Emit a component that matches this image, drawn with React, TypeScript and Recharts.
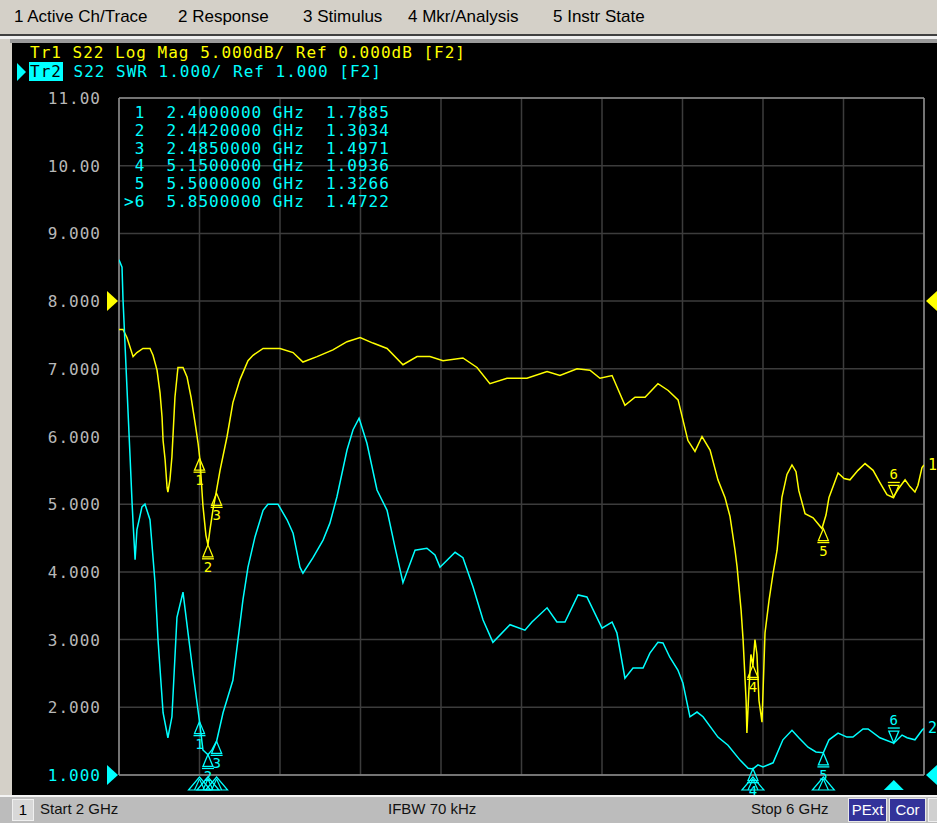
import React from "react"
import {
  ComposedChart,
  Line,
  XAxis,
  YAxis,
  CartesianGrid,
  ReferenceLine,
  ReferenceDot,
} from "recharts"

const yellow = "#ffff00"
const cyan = "#00ffff"
const grid = "#3c3c3c"
const frame = "#8c8c8c"
const mono = "'DejaVu Sans Mono', monospace"

// stimulus axis, GHz
const freqTicks = [2, 2.4, 2.8, 3.2, 3.6, 4, 4.4, 4.8, 5.2, 5.6, 6]
// SWR scale of the grid, 1.000/div, ref 1.000
const swrTicks = [1, 2, 3, 4, 5, 6, 7, 8, 9, 10, 11]

// Tr1: S22 Log Mag, [GHz, dB]
const tr1Points: [number, number][] = [
  [2.0, -2.1], [2.02, -2.1], [2.04, -2.7], [2.07, -4.1], [2.089, -3.8], [2.119, -3.5],
  [2.154, -3.5], [2.169, -4.0], [2.189, -5.1], [2.204, -6.8], [2.214, -8.6], [2.219, -10.3],
  [2.229, -11.7], [2.239, -13.8], [2.243, -14.1], [2.253, -13.2], [2.263, -11.5], [2.278, -7.1],
  [2.293, -4.9], [2.318, -4.9], [2.338, -5.6], [2.358, -7.1], [2.378, -9.0], [2.393, -10.5],
  [2.402, -11.7], [2.417, -15.1], [2.432, -17.3], [2.442, -18.0], [2.452, -16.9], [2.467, -15.4],
  [2.482, -14.2], [2.502, -12.5], [2.537, -10.0], [2.566, -7.5], [2.601, -5.8], [2.641, -4.4],
  [2.666, -4.0], [2.716, -3.5], [2.8, -3.5], [2.865, -3.8], [2.914, -4.5], [2.984, -4.1],
  [3.063, -3.6], [3.133, -3.0], [3.198, -2.7], [3.262, -3.1], [3.332, -3.5], [3.411, -4.7],
  [3.481, -4.1], [3.545, -4.1], [3.61, -4.4], [3.709, -4.2], [3.779, -4.9], [3.843, -6.1],
  [3.928, -5.7], [4.027, -5.7], [4.127, -5.2], [4.191, -5.5], [4.276, -5.0], [4.34, -5.1],
  [4.39, -5.7], [4.45, -5.5], [4.514, -7.7], [4.564, -7.1], [4.614, -7.1], [4.678, -6.1],
  [4.729, -6.6], [4.778, -7.3], [4.827, -10.3], [4.862, -11.1], [4.897, -10.0], [4.937, -11.0],
  [4.976, -13.2], [5.011, -14.5], [5.036, -15.9], [5.061, -18.4], [5.071, -19.6], [5.091, -22.8],
  [5.101, -25.0], [5.116, -29.5], [5.12, -31.9], [5.13, -28.7], [5.14, -26.1], [5.15, -26.9],
  [5.16, -25.0], [5.17, -26.1], [5.18, -29.5], [5.195, -31.1], [5.21, -24.5], [5.23, -22.1],
  [5.25, -20.1], [5.27, -18.4], [5.294, -14.5], [5.319, -12.8], [5.344, -12.1], [5.364, -12.6],
  [5.378, -14.0], [5.409, -15.7], [5.449, -16.0], [5.493, -16.8], [5.513, -15.8], [5.528, -14.5],
  [5.573, -12.7], [5.603, -13.1], [5.632, -13.2], [5.672, -12.5], [5.707, -12.0], [5.747, -12.5],
  [5.781, -13.4], [5.816, -14.3], [5.846, -14.5], [5.876, -13.8], [5.906, -13.2], [5.93, -13.7],
  [5.955, -14.1], [5.97, -13.6], [5.99, -12.3], [6.0, -12.1],
]

// Tr2: S22 SWR, [GHz, SWR]
const tr2Points: [number, number][] = [
  [2.0, 8.61], [2.015, 8.5], [2.02, 8.02], [2.04, 6.69], [2.055, 5.7], [2.065, 5.02],
  [2.07, 4.72], [2.08, 4.18], [2.089, 4.62], [2.114, 4.96], [2.129, 5.0], [2.154, 4.77],
  [2.179, 3.84], [2.194, 2.99], [2.219, 1.92], [2.243, 1.55], [2.263, 1.86], [2.288, 3.33],
  [2.318, 3.7], [2.343, 3.1], [2.368, 2.51], [2.4, 1.79], [2.417, 1.37], [2.442, 1.3],
  [2.462, 1.37], [2.485, 1.5], [2.517, 1.92], [2.566, 2.4], [2.616, 3.59], [2.641, 4.07],
  [2.676, 4.52], [2.716, 4.91], [2.74, 5.0], [2.79, 5.0], [2.835, 4.77], [2.865, 4.57],
  [2.899, 4.07], [2.914, 3.98], [2.964, 4.21], [3.014, 4.47], [3.048, 4.72], [3.083, 5.11],
  [3.133, 5.8], [3.163, 6.1], [3.193, 6.27], [3.232, 5.9], [3.282, 5.21], [3.332, 4.91],
  [3.371, 4.37], [3.411, 3.84], [3.471, 4.32], [3.53, 4.35], [3.57, 4.25], [3.595, 4.07],
  [3.67, 4.29], [3.709, 4.21], [3.759, 3.78], [3.809, 3.29], [3.858, 2.96], [3.943, 3.22],
  [4.017, 3.14], [4.052, 3.26], [4.127, 3.47], [4.176, 3.26], [4.216, 3.26], [4.281, 3.66],
  [4.325, 3.63], [4.4, 3.17], [4.45, 3.26], [4.474, 3.1], [4.514, 2.43], [4.554, 2.58],
  [4.604, 2.58], [4.638, 2.8], [4.678, 2.96], [4.703, 2.95], [4.737, 2.74], [4.777, 2.55],
  [4.802, 2.36], [4.837, 1.86], [4.872, 1.93], [4.902, 1.86], [4.976, 1.56], [5.026, 1.44],
  [5.086, 1.22], [5.126, 1.1], [5.15, 1.09], [5.175, 1.15], [5.2, 1.12], [5.25, 1.18],
  [5.299, 1.52], [5.344, 1.66], [5.378, 1.55], [5.424, 1.41], [5.463, 1.34], [5.5, 1.33],
  [5.528, 1.52], [5.573, 1.62], [5.617, 1.56], [5.647, 1.56], [5.697, 1.68], [5.722, 1.68],
  [5.781, 1.55], [5.85, 1.47], [5.891, 1.59], [5.916, 1.55], [5.955, 1.52], [5.99, 1.66],
  [6.0, 1.69],
]

// markers
const mkrLabels = ["1", "2", "3", "4", "5", "6"]
const mkrFreq = [2.4, 2.442, 2.485, 5.15, 5.5, 5.85]
const mkrSwr = [1.7885, 1.3034, 1.4971, 1.0936, 1.3266, 1.4722]
const mkrDb = [-11.6, -18.0, -14.2, -26.9, -16.8, -14.5]
const activeMkr = 5

const menuItems = ["1 Active Ch/Trace", "2 Response", "3 Stimulus", "4 Mkr/Analysis", "5 Instr State"]
const menuX = [14, 178, 303, 408, 553]

const tr1 = tr1Points.map(([f, v]) => ({ f, v }))
const tr2 = tr2Points.map(([f, v]) => ({ f, v }))

const fmtSwr = (v: number) => (v >= 10 ? v.toFixed(2) : v.toFixed(3))

// scale labels sit right-aligned at x=101, left of the plot frame
function YTick(props: any) {
  const { y, payload } = props
  const v = payload.value
  return (
    <text
      x={101}
      y={y}
      dy={6}
      textAnchor="end"
      fill={v === 1 ? cyan : "#b8b8b8"}
      fontFamily={mono}
      fontSize={16}
      letterSpacing={1}
    >
      {fmtSwr(v)}
    </text>
  )
}

function markerShape(color: string, label: string, active: boolean) {
  return (p: any) => {
    const { cx, cy } = p
    const txt = {
      fill: color,
      fontFamily: mono,
      fontSize: 14,
      textAnchor: "middle" as const,
    }
    if (active) {
      return (
        <g>
          <path d={`M${cx},${cy} L${cx - 5},${cy - 12} L${cx + 5},${cy - 12} Z`} fill="none" stroke={color} strokeWidth={1.3} />
          <line x1={cx - 6} x2={cx + 6} y1={cy - 15} y2={cy - 15} stroke={color} strokeWidth={1.3} />
          <text x={cx} y={cy - 18} {...txt}>{label}</text>
        </g>
      )
    }
    return (
      <g>
        <path d={`M${cx},${cy} L${cx - 5},${cy + 12} L${cx + 5},${cy + 12} Z`} fill="none" stroke={color} strokeWidth={1.3} />
        <line x1={cx - 6} x2={cx + 6} y1={cy + 14} y2={cy + 14} stroke={color} strokeWidth={1.3} />
        <text x={cx} y={cy + 27} {...txt}>{label}</text>
      </g>
    )
  }
}

function stimShape(active: boolean) {
  return (p: any) => {
    const { cx, cy } = p
    if (active) {
      return <path d={`M${cx},${cy + 5} L${cx - 10},${cy + 15} L${cx + 10},${cy + 15} Z`} fill={cyan} />
    }
    return (
      <g stroke={cyan} strokeWidth={1.2} fill="none">
        <path d={`M${cx},${cy + 2} L${cx - 11},${cy + 15} L${cx + 11},${cy + 15} Z`} />
        <line x1={cx} x2={cx - 5} y1={cy + 4} y2={cy + 15} />
        <line x1={cx} x2={cx + 5} y1={cy + 4} y2={cy + 15} />
      </g>
    )
  }
}

function refArrow(color: string, side: "left" | "right") {
  return (p: any) => {
    const { cx, cy } = p
    const d =
      side === "left"
        ? `M${cx - 1},${cy} L${cx - 12},${cy - 10} L${cx - 12},${cy + 10} Z`
        : `M${cx + 2},${cy} L${cx + 13},${cy - 10} L${cx + 13},${cy + 10} Z`
    return <path d={d} fill={color} />
  }
}

function endLabel(color: string, label: string) {
  return (p: any) => (
    <text x={p.cx + 4} y={p.cy + 5} fill={color} fontFamily={mono} fontSize={15}>
      {label}
    </text>
  )
}

export default function App() {
  const last1 = tr1[tr1.length - 1]
  const last2 = tr2[tr2.length - 1]
  return (
    <div style={{ position: "relative", width: 937, height: 823, background: "#d4d0c8", overflow: "hidden" }}>
      <style>{"body{margin:0}"}</style>
      {/* menu bar */}
      {menuItems.map((m, i) => (
        <div
          key={m}
          style={{
            position: "absolute",
            left: menuX[i],
            top: 7,
            fontFamily: "'Liberation Sans', Arial, sans-serif",
            fontSize: 17,
            color: "#000",
            whiteSpace: "nowrap",
          }}
        >
          {m}
        </div>
      ))}
      <div style={{ position: "absolute", left: 0, top: 34, width: 937, height: 2, background: "#404040" }} />
      <div style={{ position: "absolute", left: 0, top: 36, width: 937, height: 3, background: "#f0f0f0" }} />
      <div style={{ position: "absolute", left: 10, top: 39, width: 927, height: 4, background: "#9a9a9a" }} />
      {/* screen */}
      <div style={{ position: "absolute", left: 12, top: 43, width: 925, height: 752, background: "#000" }} />

      <div style={{ position: "absolute", left: 0, top: 0 }}>
        <ComposedChart width={937} height={823} margin={{ top: 98, right: 13, bottom: 48, left: 0 }}>
          <CartesianGrid yAxisId="swr" stroke={grid} strokeWidth={1.5} />
          <XAxis type="number" dataKey="f" domain={[2, 6]} ticks={freqTicks} hide allowDataOverflow />
          <YAxis
            yAxisId="swr"
            type="number"
            domain={[1, 11]}
            ticks={swrTicks}
            width={119}
            axisLine={false}
            tickLine={false}
            tick={<YTick />}
            interval={0}
          />
          <YAxis yAxisId="db" type="number" domain={[-35, 15]} hide />
          <ReferenceLine yAxisId="swr" x={2} stroke={frame} strokeWidth={1.5} />
          <ReferenceLine yAxisId="swr" x={6} stroke={frame} strokeWidth={1.5} />
          <ReferenceLine yAxisId="swr" y={1} stroke={frame} strokeWidth={1.5} />
          <ReferenceLine yAxisId="swr" y={11} stroke={frame} strokeWidth={1.5} />

          <Line
            yAxisId="db"
            data={tr1}
            dataKey="v"
            type="linear"
            stroke={yellow}
            strokeWidth={1.5}
            dot={false}
            isAnimationActive={false}
          />
          <Line
            yAxisId="swr"
            data={tr2}
            dataKey="v"
            type="linear"
            stroke={cyan}
            strokeWidth={1.5}
            dot={false}
            isAnimationActive={false}
          />

          {mkrFreq.map((f, i) => (
            <ReferenceDot
              key={"m1" + i}
              yAxisId="db"
              x={f}
              y={mkrDb[i]}
              shape={markerShape(yellow, mkrLabels[i], i === activeMkr)}
            />
          ))}
          {mkrFreq.map((f, i) => (
            <ReferenceDot
              key={"m2" + i}
              yAxisId="swr"
              x={f}
              y={mkrSwr[i]}
              shape={markerShape(cyan, mkrLabels[i], i === activeMkr)}
            />
          ))}
          {mkrFreq.map((f, i) => (
            <ReferenceDot key={"s" + i} yAxisId="swr" x={f} y={1} shape={stimShape(i === activeMkr)} />
          ))}

          <ReferenceDot yAxisId="db" x={2} y={0} shape={refArrow(yellow, "left")} />
          <ReferenceDot yAxisId="db" x={6} y={0} shape={refArrow(yellow, "right")} />
          <ReferenceDot yAxisId="swr" x={2} y={1} shape={refArrow(cyan, "left")} />
          <ReferenceDot yAxisId="swr" x={6} y={1} shape={refArrow(cyan, "right")} />
          <ReferenceDot yAxisId="db" x={last1.f} y={last1.v} shape={endLabel(yellow, "1")} />
          <ReferenceDot yAxisId="swr" x={last2.f} y={last2.v} shape={endLabel(cyan, "2")} />
        </ComposedChart>
      </div>

      {/* trace header */}
      <div
        style={{
          position: "absolute",
          left: 30,
          top: 43,
          fontFamily: mono,
          fontSize: 16,
          letterSpacing: 1,
          color: yellow,
          whiteSpace: "pre",
          lineHeight: "19px",
        }}
      >
        Tr1 S22 Log Mag 5.000dB/ Ref 0.000dB [F2]
      </div>
      <svg style={{ position: "absolute", left: 16, top: 63 }} width={12} height={18}>
        <path d="M1,0 L10,9 L1,18 Z" fill={cyan} />
      </svg>
      <div
        style={{
          position: "absolute",
          left: 29,
          top: 63,
          fontFamily: mono,
          fontSize: 16,
          letterSpacing: 1,
          color: cyan,
          whiteSpace: "pre",
          lineHeight: "18px",
        }}
      >
        <span style={{ background: cyan, color: "#000", padding: "0 1px" }}>Tr2</span> S22 SWR 1.000/ Ref 1.000 [F2]
      </div>

      {/* marker table */}
      <div
        style={{
          position: "absolute",
          left: 124,
          top: 104,
          fontFamily: mono,
          fontSize: 16,
          letterSpacing: 1,
          color: cyan,
          whiteSpace: "pre",
          lineHeight: "17.8px",
        }}
      >
        {mkrFreq.map((f, i) => (
          <div key={i}>
            {`${(i === activeMkr ? ">" : "") + mkrLabels[i]}`.padStart(2)}  {f.toFixed(7)} GHz  {mkrSwr[i].toFixed(4)}
          </div>
        ))}
      </div>

      {/* status bar */}
      <div style={{ position: "absolute", left: 0, top: 795, width: 937, height: 2, background: "#f4f4f4" }} />
      <div style={{ position: "absolute", left: 0, top: 797, width: 937, height: 26, background: "#bcbcbc" }} />
      <div
        style={{
          position: "absolute",
          left: 12,
          top: 799,
          width: 20,
          height: 20,
          background: "#d8d8d8",
          border: "1px solid #f0f0f0",
          fontFamily: "'Liberation Sans', Arial, sans-serif",
          fontSize: 15,
          textAlign: "center",
          lineHeight: "20px",
        }}
      >
        1
      </div>
      {[
        ["Start 2 GHz", 40],
        ["IFBW 70 kHz", 388],
        ["Stop 6 GHz", 751],
      ].map(([t, x]) => (
        <div
          key={t as string}
          style={{
            position: "absolute",
            left: x as number,
            top: 800,
            fontFamily: "'Liberation Sans', Arial, sans-serif",
            fontSize: 15,
            color: "#111",
            whiteSpace: "nowrap",
          }}
        >
          {t}
        </div>
      ))}
      {[
        ["PExt", 848, 37],
        ["Cor", 889, 35],
      ].map(([t, x, w]) => (
        <div
          key={t as string}
          style={{
            position: "absolute",
            left: x as number,
            top: 798,
            width: w as number,
            height: 22,
            background: "#33339a",
            border: "1px solid #e8e8e8",
            color: "#fff",
            fontFamily: "'Liberation Sans', Arial, sans-serif",
            fontSize: 15,
            lineHeight: "22px",
            textAlign: "center",
          }}
        >
          {t}
        </div>
      ))}
      <div style={{ position: "absolute", left: 928, top: 798, width: 12, height: 22, background: "#d0d0d0", border: "1px solid #f0f0f0" }} />
    </div>
  )
}
